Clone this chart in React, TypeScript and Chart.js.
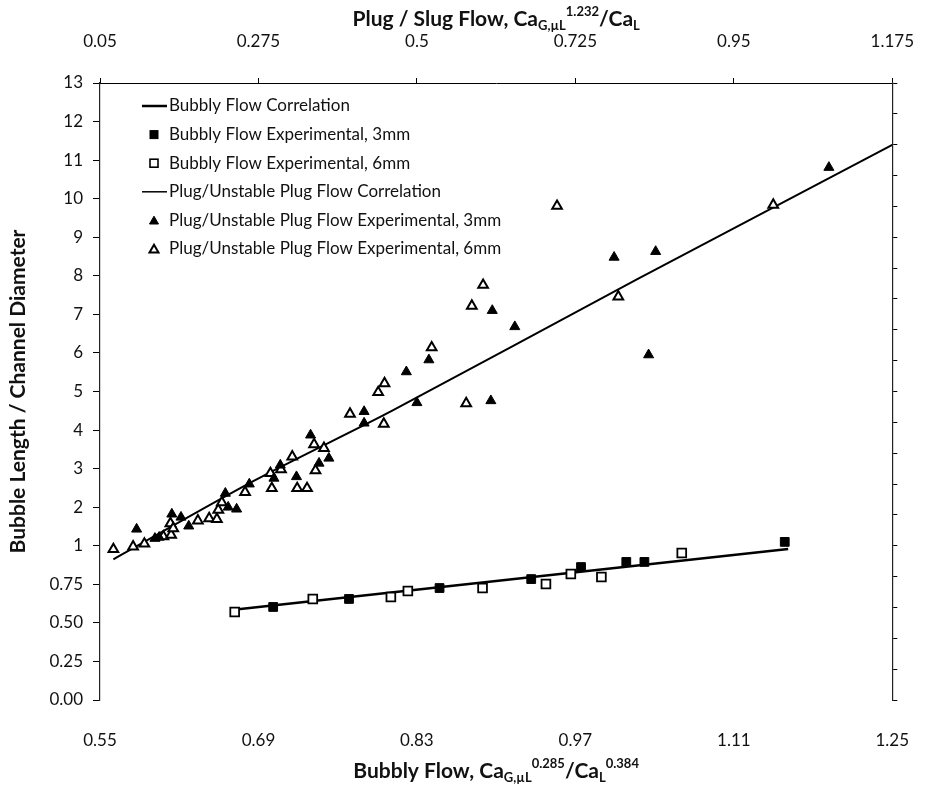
import React, { useEffect, useRef } from 'react';
import { Chart, registerables } from 'chart.js';

Chart.register(...registerables);

// ---------- axis ticks ----------
const bottomTicks = [0.55, 0.69, 0.83, 0.97, 1.11, 1.25];
const bottomTickLabels = ['0.55', '0.69', '0.83', '0.97', '1.11', '1.25'];
const topTicks = [0.05, 0.275, 0.5, 0.725, 0.95, 1.175];
const topTickLabels = ['0.05', '0.275', '0.5', '0.725', '0.95', '1.175'];
const yTickLabels = ['0.00', '0.25', '0.50', '0.75', '1', '2', '3', '4', '5', '6', '7', '8', '9', '10', '11', '12', '13'];

// ---------- bubbly flow (bottom axis) ----------
const bubblyCorrX = [0.666, 1.158];
const bubblyCorrY = [0.584, 0.979];
const bubbly3mmX = [0.703, 0.770, 0.850, 0.931, 0.975, 1.015, 1.031, 1.155];
const bubbly3mmY = [0.603, 0.655, 0.726, 0.784, 0.862, 0.895, 0.895, 1.10];
const bubbly6mmX = [0.669, 0.738, 0.807, 0.822, 0.888, 0.944, 0.966, 0.993, 1.064];
const bubbly6mmY = [0.570, 0.655, 0.668, 0.707, 0.726, 0.752, 0.817, 0.797, 0.953];

// ---------- plug flow (top axis) ----------
const plugCorrX = [0.069, 0.269, 0.465, 0.811, 1.175];
const plugCorrY = [0.912, 2.687, 4.502, 7.892, 11.393];
const plug3mmX = [0.102, 0.128, 0.134, 0.152, 0.165, 0.176, 0.228, 0.232, 0.244, 0.262, 0.297, 0.306, 0.329, 0.349, 0.361, 0.375, 0.425, 0.425, 0.485, 0.500, 0.517, 0.605, 0.607, 0.639, 0.780, 0.829, 0.839, 1.085];
const plug3mmY = [1.43, 1.19, 1.22, 1.82, 1.74, 1.51, 2.36, 2.00, 1.95, 2.60, 2.75, 3.09, 2.79, 3.87, 3.14, 3.27, 4.48, 4.18, 5.51, 4.71, 5.82, 4.76, 7.10, 6.68, 8.48, 5.95, 8.63, 10.81];
const plug6mmX = [0.069, 0.097, 0.113, 0.140, 0.151, 0.150, 0.154, 0.189, 0.205, 0.216, 0.218, 0.223, 0.256, 0.294, 0.292, 0.307, 0.323, 0.330, 0.344, 0.354, 0.356, 0.368, 0.405, 0.453, 0.445, 0.454, 0.521, 0.570, 0.578, 0.594, 0.699, 0.786, 1.006];
const plug6mmY = [0.977, 0.994, 1.05, 1.24, 1.28, 1.58, 1.45, 1.65, 1.71, 1.69, 1.93, 2.12, 2.39, 2.49, 2.88, 2.98, 3.31, 2.49, 2.49, 3.63, 2.95, 3.53, 4.42, 4.16, 4.98, 5.21, 6.14, 4.69, 7.22, 7.76, 9.81, 7.46, 9.84];

const legendLabels = [
  'Bubbly Flow Correlation',
  'Bubbly Flow Experimental, 3mm',
  'Bubbly Flow Experimental, 6mm',
  'Plug/Unstable Plug Flow Correlation',
  'Plug/Unstable Plug Flow Experimental, 3mm',
  'Plug/Unstable Plug Flow Experimental, 6mm',
];

// The vertical axis is piecewise: 0..1 in quarter steps, then 1..13 in unit steps.
function toPos(v: number): number {
  return v <= 1 ? v * 4 : v + 3;
}
function pts(xs: number[], ys: number[]) {
  return xs.map((x, i) => ({ x, y: toPos(ys[i]) }));
}

const FONT = 'Lato, "Open Sans", sans-serif';
const INK = '#111';

type Seg = { t: string; k: 'n' | 'sub' | 'sup' };

function drawRich(ctx: CanvasRenderingContext2D, segs: Seg[], cx: number, cy: number, size: number) {
  const small = Math.round(size * 0.62);
  const fontFor = (k: string) => `bold ${k === 'n' ? size : small}px ${FONT}`;
  let total = 0;
  const widths = segs.map((s) => {
    ctx.font = fontFor(s.k);
    const w = ctx.measureText(s.t).width;
    total += w;
    return w;
  });
  let x = cx - total / 2;
  ctx.textBaseline = 'middle';
  ctx.textAlign = 'left';
  segs.forEach((s, i) => {
    ctx.font = fontFor(s.k);
    const dy = s.k === 'sub' ? size * 0.32 : s.k === 'sup' ? -size * 0.36 : 0;
    ctx.fillText(s.t, x, cy + dy);
    x += widths[i];
  });
}

function drawTri(ctx: CanvasRenderingContext2D, x: number, y: number, r: number, filled: boolean) {
  ctx.beginPath();
  ctx.moveTo(x, y - r);
  ctx.lineTo(x + r * 0.866, y + r * 0.5);
  ctx.lineTo(x - r * 0.866, y + r * 0.5);
  ctx.closePath();
  ctx.fillStyle = filled ? '#000' : '#fff';
  ctx.fill();
  ctx.lineWidth = filled ? 1 : 2;
  ctx.strokeStyle = '#000';
  ctx.stroke();
}

const overlayPlugin = {
  id: 'overlay',
  afterDraw(chart: any) {
    const ctx: CanvasRenderingContext2D = chart.ctx;
    const area = chart.chartArea;
    const cx = (area.left + area.right) / 2;
    ctx.save();
    ctx.fillStyle = INK;
    // top title
    drawRich(ctx, [
      { t: 'Plug / Slug Flow, Ca', k: 'n' },
      { t: 'G,\u00b5L', k: 'sub' },
      { t: '1.232', k: 'sup' },
      { t: '/Ca', k: 'n' },
      { t: 'L', k: 'sub' },
    ], cx, 19, 21);
    // bottom title
    drawRich(ctx, [
      { t: 'Bubbly Flow, Ca', k: 'n' },
      { t: 'G,\u00b5L', k: 'sub' },
      { t: '0.285', k: 'sup' },
      { t: '/Ca', k: 'n' },
      { t: 'L', k: 'sub' },
      { t: '0.384', k: 'sup' },
    ], cx, 771, 21);
    // y title
    ctx.save();
    ctx.translate(18, (area.top + area.bottom) / 2);
    ctx.rotate(-Math.PI / 2);
    ctx.font = `bold 21px ${FONT}`;
    ctx.textAlign = 'center';
    ctx.textBaseline = 'middle';
    ctx.fillText('Bubble Length / Channel Diameter', 0, 0);
    ctx.restore();

    // legend
    const lx = area.left + 42;
    const ly = area.top + 23;
    const rowH = 28.6;
    ctx.font = `17px ${FONT}`;
    ctx.textBaseline = 'middle';
    ctx.textAlign = 'left';
    legendLabels.forEach((label, i) => {
      const y = ly + i * rowH;
      const mx = lx + 12;
      ctx.strokeStyle = '#000';
      if (i === 0 || i === 3) {
        ctx.beginPath();
        ctx.lineWidth = i === 0 ? 2.5 : 1.5;
        ctx.moveTo(lx, y);
        ctx.lineTo(lx + 25, y);
        ctx.stroke();
      } else if (i === 1 || i === 2) {
        ctx.fillStyle = i === 1 ? '#000' : '#fff';
        ctx.fillRect(mx - 4, y - 4, 8, 8);
        ctx.lineWidth = i === 1 ? 1 : 1.6;
        ctx.strokeRect(mx - 4, y - 4, 8, 8);
      } else {
        drawTri(ctx, mx, y + 1, 5.2, i === 4);
      }
      ctx.fillStyle = INK;
      ctx.fillText(label, lx + 27, y);
    });
    ctx.restore();
  },
};

export default function App() {
  const ref = useRef<HTMLCanvasElement | null>(null);

  useEffect(() => {
    if (!ref.current) return;
    const tickFont = { family: FONT, size: 17 };
    const chart = new Chart(ref.current, {
      type: 'scatter',
      data: {
        datasets: [
          {
            label: legendLabels[1], data: pts(bubbly3mmX, bubbly3mmY), xAxisID: 'x', yAxisID: 'y',
            pointStyle: 'rect', pointRadius: 6.2, backgroundColor: '#000', borderColor: '#000', borderWidth: 1, order: 1,
          },
          {
            label: legendLabels[2], data: pts(bubbly6mmX, bubbly6mmY), xAxisID: 'x', yAxisID: 'y',
            pointStyle: 'rect', pointRadius: 6.2, backgroundColor: '#fff', borderColor: '#000', borderWidth: 1.8, order: 1,
          },
          {
            label: legendLabels[4], data: pts(plug3mmX, plug3mmY), xAxisID: 'x2', yAxisID: 'y',
            pointStyle: 'triangle', pointRadius: 5.8, backgroundColor: '#000', borderColor: '#000', borderWidth: 1, order: 1,
          },
          {
            label: legendLabels[5], data: pts(plug6mmX, plug6mmY), xAxisID: 'x2', yAxisID: 'y',
            pointStyle: 'triangle', pointRadius: 5.6, backgroundColor: '#fff', borderColor: '#000', borderWidth: 2, order: 1,
          },
          {
            label: legendLabels[0], data: pts(bubblyCorrX, bubblyCorrY), xAxisID: 'x', yAxisID: 'y',
            showLine: true, pointRadius: 0, borderColor: '#000', borderWidth: 2.6, order: 2,
          },
          {
            label: legendLabels[3], data: pts(plugCorrX, plugCorrY), xAxisID: 'x2', yAxisID: 'y',
            showLine: true, pointRadius: 0, borderColor: '#000', borderWidth: 2, order: 2, tension: 0.3,
          },
        ],
      },
      options: {
        animation: false,
        responsive: false,
        events: [],
        layout: { padding: 0 },
        plugins: { legend: { display: false }, tooltip: { enabled: false }, title: { display: false } },
        scales: {
          x: {
            type: 'linear', position: 'bottom', min: 0.55, max: 1.25,
            afterBuildTicks: (s: any) => { s.ticks = bottomTicks.map((v) => ({ value: v })); },
            afterFit: (s: any) => { s.height = 89; },
            ticks: { autoSkip: false, maxRotation: 0, padding: 22, color: INK, font: tickFont, callback: (_v: any, i: number) => bottomTickLabels[i] },
            grid: { display: false },
            border: { display: false },
          },
          x2: {
            type: 'linear', position: 'top', min: 0.05, max: 1.175,
            afterBuildTicks: (s: any) => { s.ticks = topTicks.map((v) => ({ value: v })); },
            afterFit: (s: any) => { s.height = 83; },
            ticks: { autoSkip: false, maxRotation: 0, padding: 26, color: INK, font: tickFont, callback: (_v: any, i: number) => topTickLabels[i] },
            grid: { drawOnChartArea: false, drawTicks: true, tickLength: 5, color: '#000', lineWidth: 1 },
            border: { display: true, color: '#000', width: 1 },
          },
          y: {
            type: 'linear', position: 'left', min: 0, max: 16,
            afterBuildTicks: (s: any) => { s.ticks = yTickLabels.map((_l, i) => ({ value: i })); },
            afterFit: (s: any) => { s.width = 100; },
            ticks: { autoSkip: false, padding: 10, color: INK, font: tickFont, callback: (_v: any, i: number) => yTickLabels[i] },
            grid: { drawOnChartArea: false, drawTicks: true, tickLength: 7, color: '#000', lineWidth: 1 },
            border: { display: true, color: '#222', width: 1.2 },
          },
          y2: {
            type: 'linear', position: 'right', min: 0, max: 20,
            afterBuildTicks: (s: any) => { s.ticks = Array.from({ length: 21 }, (_u, i) => ({ value: i })); },
            afterFit: (s: any) => { s.width = 27; },
            ticks: { display: false },
            grid: { drawOnChartArea: false, drawTicks: true, tickLength: 5, color: '#000', lineWidth: 1 },
            border: { display: true, color: '#222', width: 1.2 },
          },
        },
      },
      plugins: [overlayPlugin],
    } as any);
    return () => chart.destroy();
  }, []);

  return (
    <div style={{ position: 'absolute', left: 0, top: 0, width: 940, height: 789, background: '#fff' }}>
      <canvas ref={ref} width={940} height={789} style={{ display: 'block', width: 940, height: 789 }} />
    </div>
  );
}
